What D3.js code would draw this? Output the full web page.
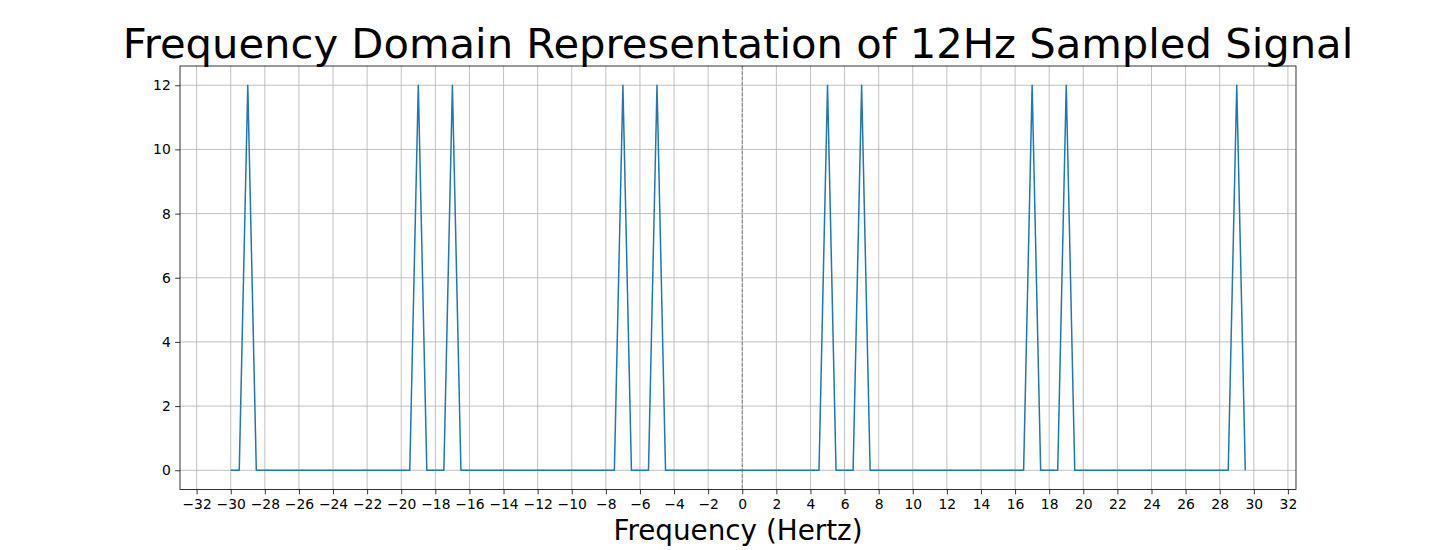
<!DOCTYPE html>
<html>
<head>
<meta charset="utf-8">
<script src="https://cdn.jsdelivr.net/npm/d3@7"></script>
<style>
  body { margin: 0; background: #fff; }
  svg { display: block; font-family: 'DejaVu Sans', sans-serif; }
</style>
</head>
<body>
<svg id="chart" width="1440" height="550"></svg>
<script>
// sampled frequency bins (Hz)
const freqs = [
  -30, -29.5, -29, -28.5, -28, -27.5, -27, -26.5, -26, -25.5,
  -25, -24.5, -24, -23.5, -23, -22.5, -22, -21.5, -21, -20.5,
  -20, -19.5, -19, -18.5, -18, -17.5, -17, -16.5, -16, -15.5,
  -15, -14.5, -14, -13.5, -13, -12.5, -12, -11.5, -11, -10.5,
  -10, -9.5, -9, -8.5, -8, -7.5, -7, -6.5, -6, -5.5,
  -5, -4.5, -4, -3.5, -3, -2.5, -2, -1.5, -1, -0.5,
  0, 0.5, 1, 1.5, 2, 2.5, 3, 3.5, 4, 4.5,
  5, 5.5, 6, 6.5, 7, 7.5, 8, 8.5, 9, 9.5,
  10, 10.5, 11, 11.5, 12, 12.5, 13, 13.5, 14, 14.5,
  15, 15.5, 16, 16.5, 17, 17.5, 18, 18.5, 19, 19.5,
  20, 20.5, 21, 21.5, 22, 22.5, 23, 23.5, 24, 24.5,
  25, 25.5, 26, 26.5, 27, 27.5, 28, 28.5, 29, 29.5
]

// magnitude at each bin
const magnitude = [
  0, 0, 12, 0, 0, 0, 0, 0, 0, 0,
  0, 0, 0, 0, 0, 0, 0, 0, 0, 0,
  0, 0, 12, 0, 0, 0, 12, 0, 0, 0,
  0, 0, 0, 0, 0, 0, 0, 0, 0, 0,
  0, 0, 0, 0, 0, 0, 12, 0, 0, 0,
  12, 0, 0, 0, 0, 0, 0, 0, 0, 0,
  0, 0, 0, 0, 0, 0, 0, 0, 0, 0,
  12, 0, 0, 0, 12, 0, 0, 0, 0, 0,
  0, 0, 0, 0, 0, 0, 0, 0, 0, 0,
  0, 0, 0, 0, 12, 0, 0, 0, 12, 0,
  0, 0, 0, 0, 0, 0, 0, 0, 0, 0,
  0, 0, 0, 0, 0, 0, 0, 0, 12, 0
]

const xTicks = [-32, -30, -28, -26, -24, -22, -20, -18, -16, -14, -12, -10, -8, -6, -4, -2,
  0, 2, 4, 6, 8, 10, 12, 14, 16, 18, 20, 22, 24, 26, 28, 30, 32]
const yTicks = [0, 2, 4, 6, 8, 10, 12]

const plotLeft = 180, plotRight = 1296, plotTop = 66, plotBottom = 489.5

const svg = d3.select('#chart')
const fmt = d => (d < 0 ? '\u2212' + Math.abs(d) : String(d))

const x = d3.scaleLinear().domain([-32.975, 32.475]).range([plotLeft, plotRight])
const y = d3.scaleLinear().domain([-0.6, 12.6]).range([plotBottom, plotTop])

// grid
const grid = svg.append('g').attr('stroke', '#b0b0b0').attr('stroke-width', 0.8)
grid.selectAll('.gx').data(xTicks).join('line')
  .attr('x1', d => x(d)).attr('x2', d => x(d))
  .attr('y1', plotTop).attr('y2', plotBottom)
grid.selectAll('.gy').data(yTicks).join('line')
  .attr('x1', plotLeft).attr('x2', plotRight)
  .attr('y1', d => y(d)).attr('y2', d => y(d))

// zero marker
svg.append('line')
  .attr('x1', x(0)).attr('x2', x(0))
  .attr('y1', plotTop).attr('y2', plotBottom)
  .attr('stroke', '#808080')
  .attr('stroke-width', 1)
  .attr('stroke-dasharray', '3.7,1.6')

// spectrum line
const line = d3.line().x((d, i) => x(freqs[i])).y(d => y(d))
svg.append('path')
  .datum(magnitude)
  .attr('fill', 'none')
  .attr('stroke', '#1f77b4')
  .attr('stroke-width', 1.5)
  .attr('stroke-linejoin', 'round')
  .attr('d', line)

// axes
const xAxis = svg.append('g')
  .attr('transform', `translate(0,${plotBottom})`)
  .call(d3.axisBottom(x).tickValues(xTicks).tickFormat(fmt).tickSize(4.86).tickPadding(4.4))
const yAxis = svg.append('g')
  .attr('transform', `translate(${plotLeft},0)`)
  .call(d3.axisLeft(y).tickValues(yTicks).tickFormat(fmt).tickSize(4.86).tickPadding(4.4))

for (const a of [xAxis, yAxis]) {
  a.select('.domain').remove()
  a.selectAll('.tick line').attr('stroke', '#000').attr('stroke-width', 0.8)
  a.selectAll('.tick text')
    .attr('fill', '#000')
    .style('font-family', "'DejaVu Sans', sans-serif")
    .style('font-size', '13.9px')
}

// frame
svg.append('rect')
  .attr('x', plotLeft).attr('y', plotTop)
  .attr('width', plotRight - plotLeft).attr('height', plotBottom - plotTop)
  .attr('fill', 'none').attr('stroke', '#000').attr('stroke-width', 0.8)

// labels
svg.append('text')
  .attr('x', (plotLeft + plotRight) / 2).attr('y', 57.5)
  .attr('text-anchor', 'middle')
  .style('font-size', '41.7px')
  .text('Frequency Domain Representation of 12Hz Sampled Signal')

svg.append('text')
  .attr('x', (plotLeft + plotRight) / 2).attr('y', 540)
  .attr('text-anchor', 'middle')
  .style('font-size', '27.8px')
  .text('Frequency (Hertz)')
</script>
</body>
</html>
